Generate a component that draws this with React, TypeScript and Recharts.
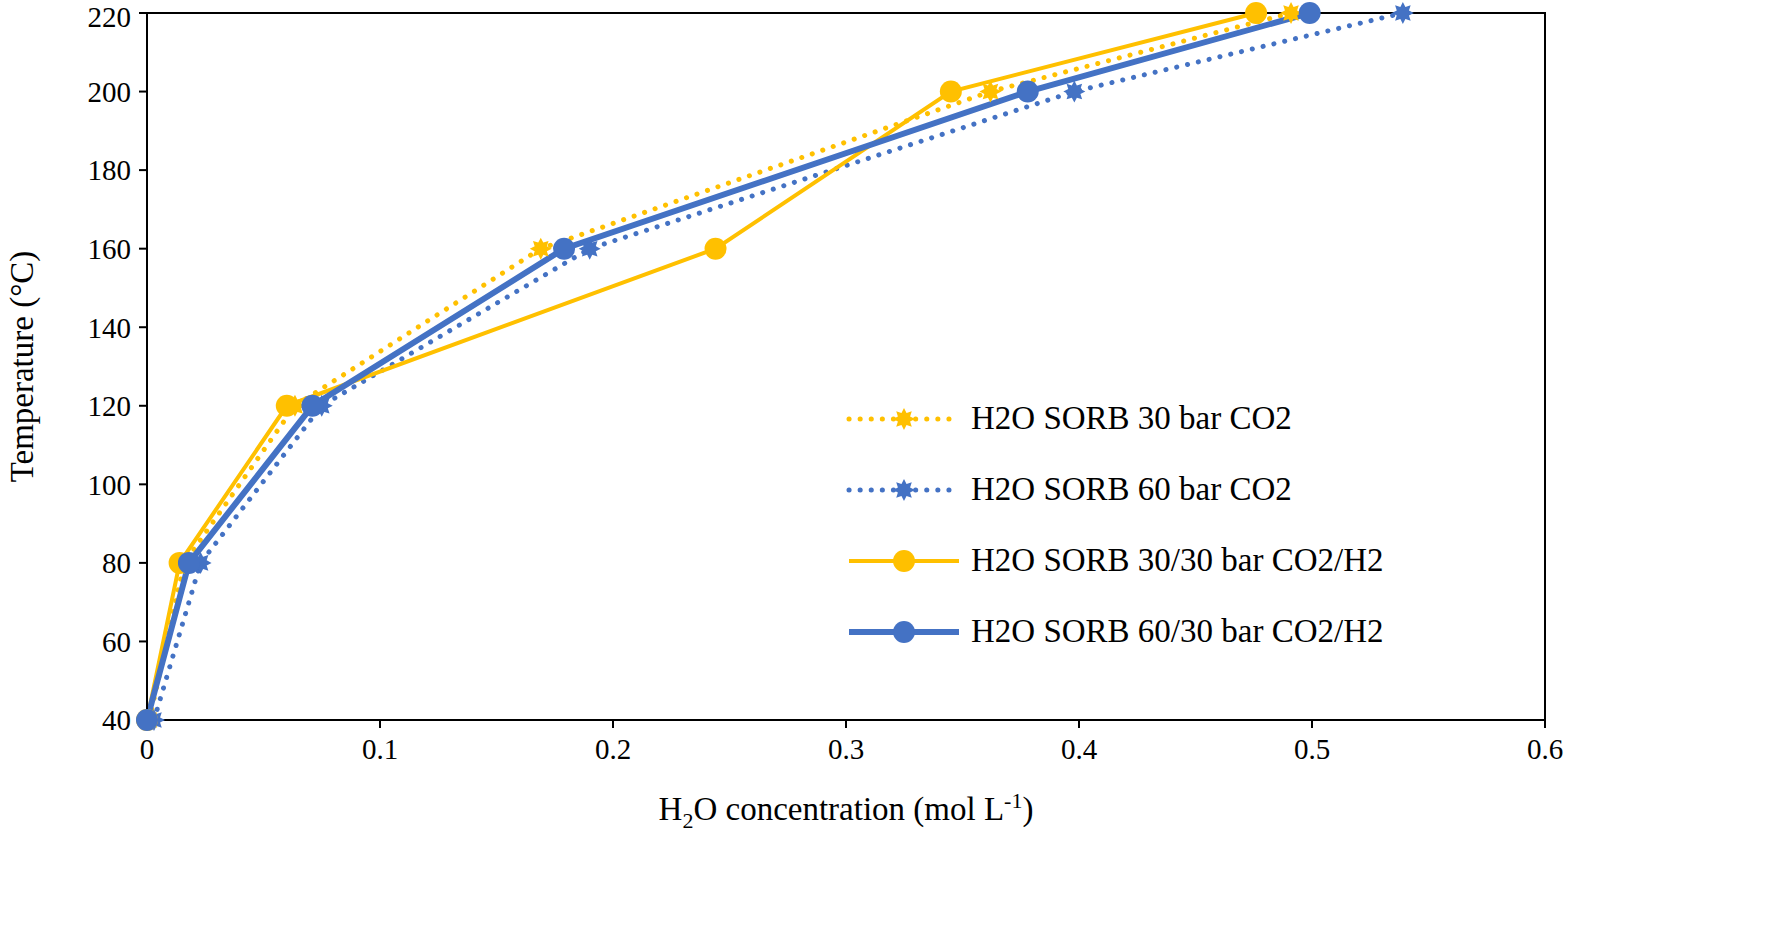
import React from "react";
import { LineChart, Line, XAxis, YAxis, ReferenceArea } from "recharts";

const temps = [40, 80, 120, 160, 200, 220];
const s30co2 = [0.001, 0.016, 0.0635, 0.169, 0.362, 0.491];
const s60co2 = [0.003, 0.023, 0.075, 0.19, 0.398, 0.539];
const s30h2 = [0.0, 0.014, 0.06, 0.244, 0.345, 0.476];
const s60h2 = [0.0, 0.018, 0.071, 0.179, 0.378, 0.499];
const xTicks = [0, 0.1, 0.2, 0.3, 0.4, 0.5, 0.6];
const yTicks = [40, 60, 80, 100, 120, 140, 160, 180, 200, 220];

const mk = (xs: number[]) => xs.map((x, i) => ({ x, y: temps[i] }));
const YEL = "#FFC000";
const BLU = "#4472C4";
const FONT = "'Liberation Serif', 'Times New Roman', serif";

const starPath = (cx: number, cy: number, r: number) => {
  const pts: string[] = [];
  for (let i = 0; i < 16; i++) {
    const a = (Math.PI * 2 * i) / 16;
    const rr = i % 2 === 0 ? r : r * 0.6;
    pts.push(`${cx + rr * Math.cos(a)},${cy + rr * Math.sin(a)}`);
  }
  return "M" + pts.join("L") + "Z";
};
const Star = (color: string) => (p: any) =>
  p.cx == null ? <g key={p.key} /> : <path key={p.key} d={starPath(p.cx, p.cy, 11)} fill={color} />;

const series = [
  { name: "H2O SORB 30 bar CO2", data: mk(s30co2), color: YEL, dotted: true, w: 5 },
  { name: "H2O SORB 60 bar CO2", data: mk(s60co2), color: BLU, dotted: true, w: 5 },
  { name: "H2O SORB 30/30 bar CO2/H2", data: mk(s30h2), color: YEL, dotted: false, w: 4 },
  { name: "H2O SORB 60/30 bar CO2/H2", data: mk(s60h2), color: BLU, dotted: false, w: 6 },
];

const LegendBox = () => (
  <div style={{ position: "absolute", left: 845, top: 383, fontFamily: FONT, fontSize: 33, color: "#000" }}>
    {series.map((s) => (
      <div key={s.name} style={{ display: "flex", alignItems: "center", height: 71 }}>
        <svg width={118} height={30}>
          <line x1={4} y1={15} x2={114} y2={15} stroke={s.color} strokeWidth={s.w}
            strokeDasharray={s.dotted ? "0.1 11" : undefined} strokeLinecap={s.dotted ? "round" : "butt"} />
          {s.dotted ? <path d={starPath(59, 15, 11)} fill={s.color} /> : <circle cx={59} cy={15} r={11} fill={s.color} />}
        </svg>
        <span style={{ marginLeft: 8, whiteSpace: "nowrap" }}>{s.name}</span>
      </div>
    ))}
  </div>
);

export default function App() {
  return (
    <div style={{ position: "absolute", left: 0, top: 0, width: 1772, height: 938, background: "#fff" }}>
      <LineChart width={1772} height={938} margin={{ top: 13, right: 227, left: 0, bottom: 0 }}>
        <XAxis type="number" dataKey="x" domain={[0, 0.6]} ticks={xTicks} xAxisId="b"
          height={218} stroke="#000" strokeWidth={2} tickSize={8}
          tick={{ fill: "#000", fontSize: 29, fontFamily: FONT, dy: 8 }}
          label={({ viewBox }: any) => (
            <text x={viewBox.x + viewBox.width / 2} y={viewBox.y + 100} textAnchor="middle"
              fontFamily={FONT} fontSize={33} fill="#000">
              H<tspan fontSize={22} dy={8}>2</tspan><tspan dy={-8}>O concentration (mol L</tspan>
              <tspan fontSize={22} dy={-12}>-1</tspan><tspan dy={12}>)</tspan>
            </text>
          )} />
        <YAxis type="number" dataKey="y" domain={[40, 220]} ticks={yTicks} yAxisId="l"
          width={147} stroke="#000" strokeWidth={2} tickSize={8}
          tick={{ fill: "#000", fontSize: 29, fontFamily: FONT, dx: -6 }}
          label={({ viewBox }: any) => (
            <text x={33} y={viewBox.y + viewBox.height / 2} textAnchor="middle"
              transform={`rotate(-90, 33, ${viewBox.y + viewBox.height / 2})`}
              fontFamily={FONT} fontSize={33} fill="#000">Temperature (°C)</text>
          )} />
        <ReferenceArea xAxisId="b" yAxisId="l" x1={0} x2={0.6} y1={40} y2={220}
          fill="none" stroke="#000" strokeWidth={2} ifOverflow="visible" />
        {series.map((s) => (
          <Line key={s.name} name={s.name} data={s.data} dataKey="y" xAxisId="b" yAxisId="l"
            type="linear" stroke={s.color} strokeWidth={s.w} isAnimationActive={false}
            strokeDasharray={s.dotted ? "0.1 11" : undefined}
            strokeLinecap={s.dotted ? "round" : "butt"}
            dot={s.dotted ? Star(s.color) : { r: 11, fill: s.color, stroke: s.color, strokeWidth: 0 }}
            activeDot={false} />
        ))}
      </LineChart>
      <LegendBox />
    </div>
  );
}
